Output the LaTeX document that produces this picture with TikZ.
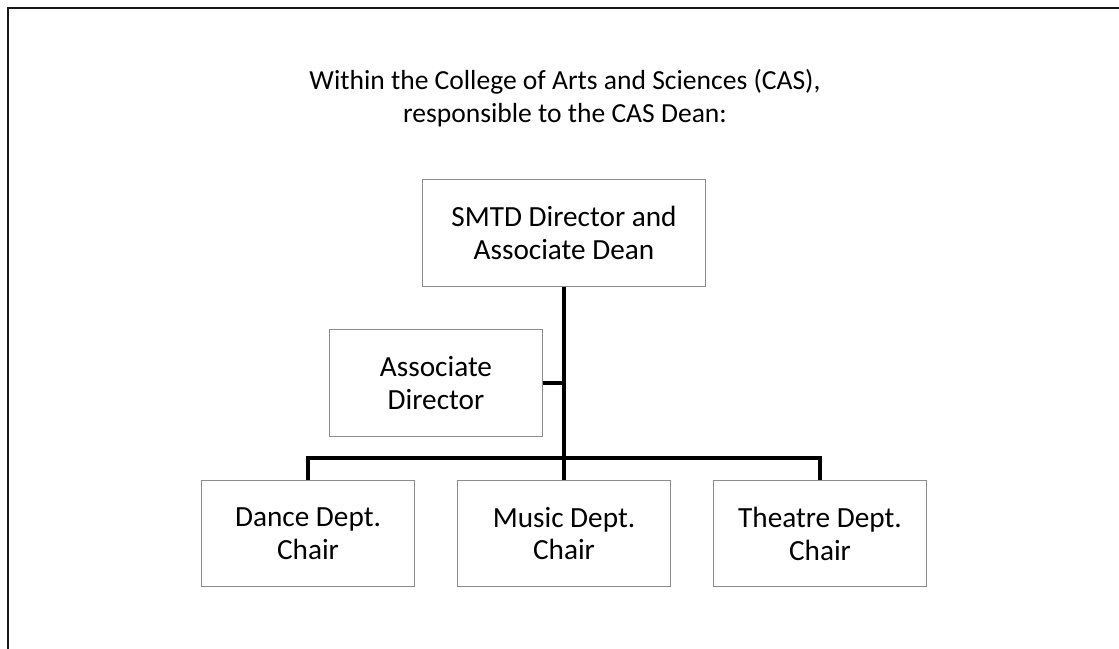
\documentclass[tikz,border=0pt]{standalone}
\usepackage{fontspec}
\setmainfont{Carlito}
\usepackage{tikz}

\tikzset{
	unit/.style={draw=black!45, line width=0.7pt, fill=white, align=center,
		minimum width=5.3cm, minimum height=2.65cm, inner sep=0pt,
		font=\fontsize{20.8}{23.4}\selectfont},
	link/.style={black, line width=3.5pt}
}

\begin{document}
\begin{tikzpicture}[x=0.025cm, y=-0.025cm]
	\useasboundingbox (0,0) rectangle (1119,649);
	% frame
	\draw[black!90, line width=2pt] (1119,8) -- (8,8) -- (8,649);

	\node[align=center, font=\fontsize{19.6}{23.4}\selectfont] (title) at (565,98)
		{Within the College of Arts and Sciences (CAS),\\responsible to the CAS Dean:};

	\node[unit, minimum width=7.05cm] (dean) at (564,233) {SMTD Director and\\Associate Dean};
	\node[unit] (assoc) at (436,383) {Associate\\Director};
	\node[unit] (dance) at (308,533.5) {Dance Dept.\\Chair};
	\node[unit] (music) at (564,533.5) {Music Dept.\\Chair};
	\node[unit] (theatre) at (820,533.5) {Theatre Dept.\\Chair};

	\coordinate (bar) at (564,458);

	% dean down to the bar
	\draw[link] (dean.south) -- (bar);
	% associate director
	\draw[link] (assoc.east) -- (assoc.east -| dean.south);
	% chairs
	\draw[link] (dance.north) |- (bar) -| (theatre.north);
	\draw[link] (bar) -- (music.north);
\end{tikzpicture}
\end{document}
